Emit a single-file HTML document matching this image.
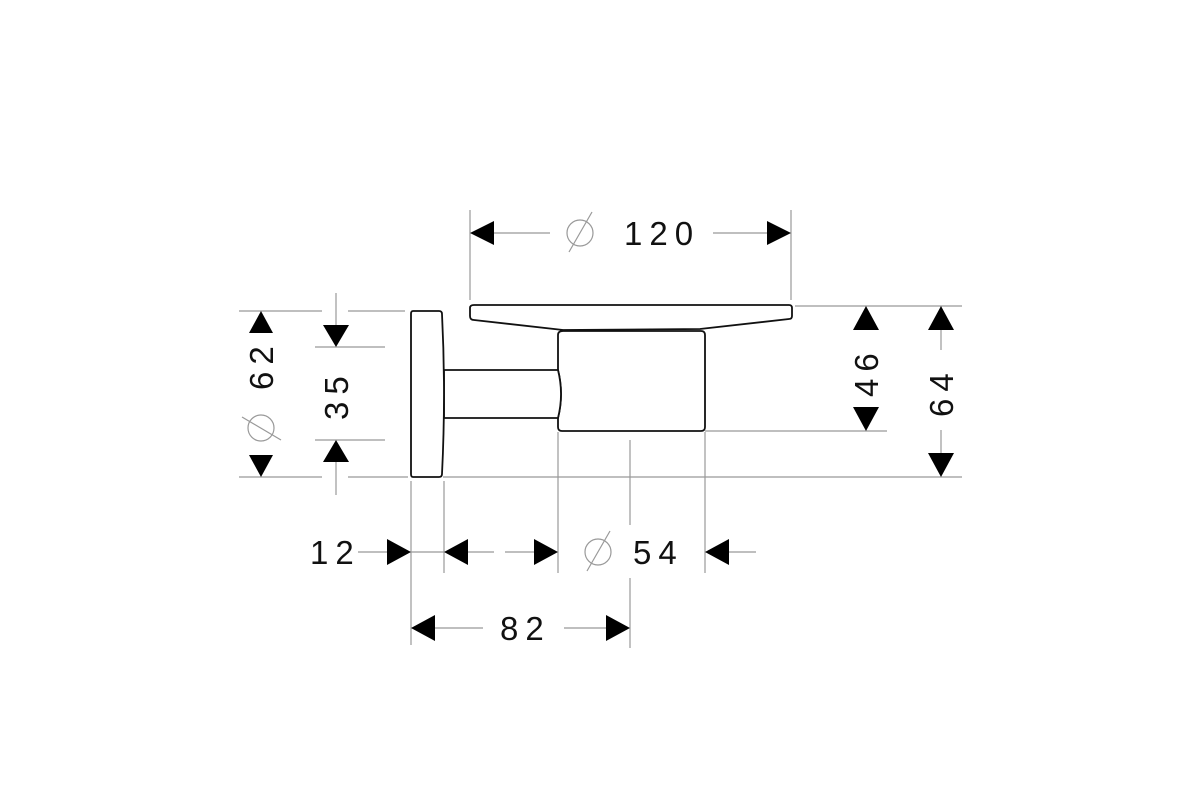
<!DOCTYPE html>
<html><head><meta charset="utf-8"><style>
html,body{margin:0;padding:0;background:#fff;}
svg{display:block;}
text{font-family:"Liberation Sans","DejaVu Sans",sans-serif;font-size:33px;fill:#111;letter-spacing:7px;}
</style></head><body>
<svg width="1200" height="800" viewBox="0 0 1200 800" xmlns="http://www.w3.org/2000/svg">
<rect width="1200" height="800" fill="#fff"/>
<g stroke="#999" stroke-width="1.2" fill="none">
<!-- top 120 -->
<line x1="470" y1="210" x2="470" y2="300"/><line x1="791" y1="210" x2="791" y2="300"/>
<line x1="494" y1="233" x2="550" y2="233"/><line x1="713" y1="233" x2="767" y2="233"/>
<!-- horizontal extension lines -->
<line x1="795" y1="306" x2="962" y2="306"/>
<line x1="705" y1="431" x2="887" y2="431"/>
<line x1="443" y1="477" x2="962" y2="477"/>
<line x1="239" y1="311" x2="322" y2="311"/><line x1="348" y1="311" x2="405" y2="311"/>
<line x1="239" y1="477" x2="322" y2="477"/><line x1="348" y1="477" x2="408" y2="477"/>
<line x1="315" y1="347" x2="385" y2="347"/><line x1="315" y1="440" x2="385" y2="440"/>
<!-- 35 vertical -->
<line x1="336" y1="293" x2="336" y2="325"/><line x1="336" y1="462" x2="336" y2="495"/>
<!-- 64 vertical -->
<line x1="941" y1="330" x2="941" y2="350"/><line x1="941" y1="430" x2="941" y2="453"/>
<!-- bottom extension -->
<line x1="411" y1="481" x2="411" y2="645"/>
<line x1="444" y1="481" x2="444" y2="573"/>
<line x1="558" y1="432" x2="558" y2="573"/>
<line x1="630" y1="440" x2="630" y2="525"/><line x1="630" y1="578" x2="630" y2="648"/>
<line x1="705" y1="432" x2="705" y2="573"/>
<!-- 12/54 dim line -->
<line x1="358" y1="552" x2="388" y2="552"/><line x1="411" y1="552" x2="444" y2="552"/>
<line x1="468" y1="552" x2="494" y2="552"/><line x1="505" y1="552" x2="534" y2="552"/>
<line x1="728" y1="552" x2="756" y2="552"/>
<!-- 82 -->
<line x1="434" y1="628" x2="483" y2="628"/><line x1="564" y1="628" x2="607" y2="628"/>
<!-- phi symbols -->
<circle cx="580" cy="233" r="13"/><line x1="569" y1="252" x2="592" y2="212"/>
<circle cx="598" cy="552" r="13"/><line x1="587" y1="571" x2="610" y2="531"/>
<circle cx="261" cy="428" r="13"/><line x1="242" y1="417" x2="281" y2="440"/>
</g>
<!-- arrows -->
<g fill="#000">
<polygon points="470,233 494,221 494,245"/>
<polygon points="791,233 767,221 767,245"/>
<polygon points="261,311 249,333 273,333"/>
<polygon points="261,477 249,455 273,455"/>
<polygon points="336,347 323,325 349,325"/>
<polygon points="336,440 323,462 349,462"/>
<polygon points="866,306 853,330 879,330"/>
<polygon points="866,431 853,407 879,407"/>
<polygon points="941,306 928,330 954,330"/>
<polygon points="941,477 928,453 954,453"/>
<polygon points="411,552 387,539 387,565"/>
<polygon points="444,552 468,539 468,565"/>
<polygon points="558,552 534,539 534,565"/>
<polygon points="705,552 729,539 729,565"/>
<polygon points="411,628 435,615 435,641"/>
<polygon points="630,628 606,615 606,641"/>
</g>
<!-- object -->
<g stroke="#111" stroke-width="1.8" fill="#fff">
<path d="M474,305 L789,305 Q792,305 792,308 L792,316 Q792,319 789,319 L700,329 L563,330 L474,320 Q470,320 470,316 L470,308 Q470,305 474,305 Z"/>
<path d="M563,331 L701,331 Q705,331 705,335 L705,427 Q705,431 701,431 L562,431 Q558,431 558,427 L558,418 Q564,394 558,370 L558,335 Q558,331 563,331 Z"/>
<path d="M444,370 L558,370 Q564,394 558,418 L444,418 Z"/>
<path d="M413,311 L439,311 Q442,311 442,314 Q446,394 442,474 Q442,477 439,477 L413,477 Q411,477 411,474 L411,314 Q411,311 413,311 Z"/>
</g>
<!-- labels -->
<text x="624" y="245">120</text>
<text x="633" y="564">54</text>
<text x="310" y="564">12</text>
<text x="500" y="640">82</text>
<text transform="translate(273,390) rotate(-90)">62</text>
<text transform="translate(348,420) rotate(-90)">35</text>
<text transform="translate(878,397) rotate(-90)">46</text>
<text transform="translate(953,417) rotate(-90)">64</text>
</svg>
</body></html>
